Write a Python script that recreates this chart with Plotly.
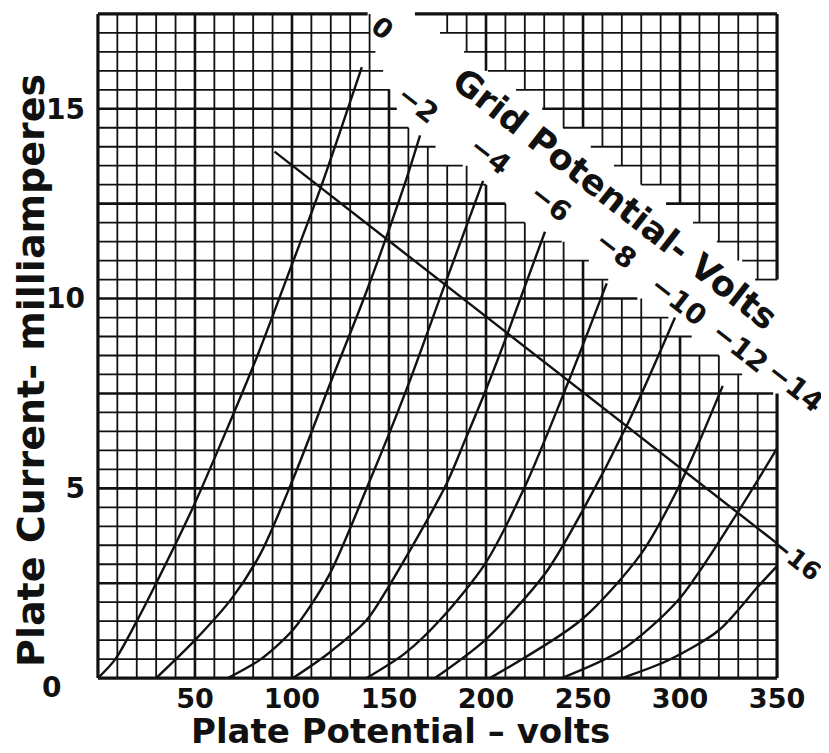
import plotly.graph_objects as go

# ---------------- data ----------------
grid_labels = ["0", "−2", "−4", "−6", "−8", "−10", "−12", "−14", "−16"]

g0_v = [0, 9, 20, 30, 49, 66, 83, 100, 115, 136]
g0_i = [0, 0.5, 1.5, 2.5, 4.5, 6.5, 8.6, 10.9, 12.95, 16.1]

g2_v = [30, 50, 69, 84, 101, 120, 138.5, 158, 166]
g2_i = [0, 1.0, 2.1, 3.3, 5.3, 7.8, 10.2, 13.0, 14.3]

g4_v = [67, 84, 101, 119, 138.5, 159, 179, 198.5]
g4_i = [0, 0.5, 1.3, 2.7, 5.0, 7.6, 10.4, 13.1]

g6_v = [100.5, 118.7, 138.5, 149.7, 178.9, 189.2, 199.5, 209.8, 230.4]
g6_i = [0, 0.65, 1.53, 2.4, 5.04, 6.27, 7.54, 8.9, 11.76]

g8_v = [138.5, 158.2, 176.3, 199.5, 220, 242.4, 262.2]
g8_i = [0, 0.65, 1.53, 3.01, 5.04, 7.8, 10.4]

g10_v = [173.7, 199.5, 230.4, 249, 273, 297.4]
g10_i = [0, 1.0, 2.75, 4.34, 6.7, 9.5]

g12_v = [202, 249, 280, 299, 311, 322]
g12_i = [0, 1.53, 3.28, 5.0, 6.36, 7.7]

g14_v = [239, 270, 299, 328.4, 350]
g14_i = [0, 0.74, 2.05, 4.26, 6.05]

g16_v = [270, 294, 320, 340, 350]
g16_i = [0, 0.47, 1.26, 2.4, 2.95]

load_v = [91, 350]
load_i = [13.87, 3.55]

x_ticks = [50, 100, 150, 200, 250, 300, 350]
y_ticks = [5, 10, 15]

# staircase edges of the blank band through the grid
lower_edge_i = [17.5, 17.0, 16.5, 16.0, 15.5, 15.0, 14.5, 14.0, 13.5, 13.0, 12.5,
                12.0, 11.5, 11.0, 10.5, 10.0, 9.5, 9.0, 8.5, 8.0, 7.5]
lower_edge_v = [139, 140, 143, 147, 150.5, 154, 160, 174, 188, 200, 210,
                220, 239, 253, 263, 278, 294, 306, 320, 332, 348]
upper_edge_i = [17.5, 17.0, 16.5, 16.0, 15.5, 15.0, 14.5, 14.0, 13.5, 13.0,
                12.5, 12.0, 11.5, 11.0, 10.5]
upper_edge_v = [163.4, 176.3, 188.7, 201, 215.5, 229, 239.7, 254, 266, 280,
                292.8, 306.7, 319, 332, 338.7]

# ---------------- grid construction ----------------
V_MAX, I_MAX = 350, 17.5
X_RANGE = [-1, 351]
Y_RANGE = [-0.05, 17.55]
lower_E = dict(zip(lower_edge_i, lower_edge_v))
upper_S = dict(zip(upper_edge_i, upper_edge_v))


def lower_extent(i):
    return lower_E.get(i, V_MAX)


h_levels = [k * 0.5 for k in range(36)]
v_levels = [k * 10 for k in range(36)]

segs = {"minor": ([], []), "major": ([], []), "border": ([], [])}


def add(kind, xs, ys):
    segs[kind][0].extend(xs + [None])
    segs[kind][1].extend(ys + [None])


for i in h_levels:
    kind = "border" if i in (0, I_MAX) else ("major" if abs(i / 2.5 - round(i / 2.5)) < 1e-9 else "minor")
    add(kind, [0, lower_extent(i)], [i, i])
    if i in upper_S:
        add(kind, [upper_S[i], V_MAX], [i, i])

for v in v_levels:
    kind = "border" if v in (0, V_MAX) else ("major" if v % 50 == 0 else "minor")
    top = max(i for i in h_levels if lower_extent(i) >= v - 2)
    add(kind, [v, v], [0, top])
    floors = [i for i in upper_edge_i if i < I_MAX and upper_S[i] <= v + 2]
    if floors:
        add(kind, [v, v], [min(floors), I_MAX])

fig = go.Figure()
widths = {"minor": 1.8, "major": 2.6, "border": 3.2}
for kind in ("minor", "major", "border"):
    fig.add_trace(go.Scatter(x=segs[kind][0], y=segs[kind][1], mode="lines",
                             line=dict(color="#111111", width=widths[kind]),
                             hoverinfo="skip", showlegend=False))

curves = [(g0_v, g0_i), (g2_v, g2_i), (g4_v, g4_i), (g6_v, g6_i), (g8_v, g8_i),
          (g10_v, g10_i), (g12_v, g12_i), (g14_v, g14_i), (g16_v, g16_i)]
for (vv, ii), name in zip(curves, grid_labels):
    fig.add_trace(go.Scatter(x=vv, y=ii, mode="lines", name=name,
                             line=dict(color="#111111", width=2.4, shape="spline", smoothing=0.8),
                             hoverinfo="skip", showlegend=False))

fig.add_trace(go.Scatter(x=load_v, y=load_i, mode="lines",
                         line=dict(color="#111111", width=2.4),
                         hoverinfo="skip", showlegend=False))

FONT = "DejaVu Sans"
ann = []


def px_x(v):
    return (v - X_RANGE[0]) / (X_RANGE[1] - X_RANGE[0])


def px_y(i):
    return (i - Y_RANGE[0]) / (Y_RANGE[1] - Y_RANGE[0])


def label(text, x, y, size, angle=0):
    ann.append(dict(text=text, x=px_x(x), y=px_y(y), xref="paper", yref="paper", showarrow=False,
                    textangle=angle, xanchor="center", yanchor="middle",
                    font=dict(family=FONT, size=size, color="#111111", weight="bold")))


label_pos = [(146.9, 17.12), (164.9, 15.10), (202.1, 13.78), (233.0, 12.52), (266.5, 11.28),
             (299.0, 9.94), (330.9, 8.72), (359.0, 7.67), (359.8, 3.16)]
label_size = [27, 28, 28, 28, 28, 28, 28, 28, 25]
for t, (x, y), s in zip(grid_labels, label_pos, label_size):
    label(t, x, y, s, 38)

label("Grid Potential- Volts", 266.5, 12.62, 35, 38)
label("0", -23.7, -0.26, 28)
label("Plate Potential – volts", 155.7, -1.40, 34)
label("Plate Current- milliamperes", -34.5, 8.12, 38, -90)

# the page body adds an 8 px offset; size and margins compensate for it
fig.update_layout(
    width=821, height=745,
    margin=dict(l=88, r=50, t=4, b=73),
    plot_bgcolor="white", paper_bgcolor="white",
    showlegend=False,
    annotations=ann,
    xaxis=dict(range=X_RANGE, tickvals=x_ticks, ticktext=[str(t) for t in x_ticks],
               showgrid=False, zeroline=False, showline=False, ticks="", automargin=False,
               ticklabelstandoff=0,
               tickfont=dict(family=FONT, size=27, color="#111111", weight="bold")),
    yaxis=dict(range=Y_RANGE, tickvals=y_ticks, ticktext=[str(t) for t in y_ticks],
               showgrid=False, zeroline=False, showline=False, ticks="", automargin=False,
               ticklabelstandoff=10,
               tickfont=dict(family=FONT, size=28, color="#111111", weight="bold")),
)

fig.write_html("out.html")
